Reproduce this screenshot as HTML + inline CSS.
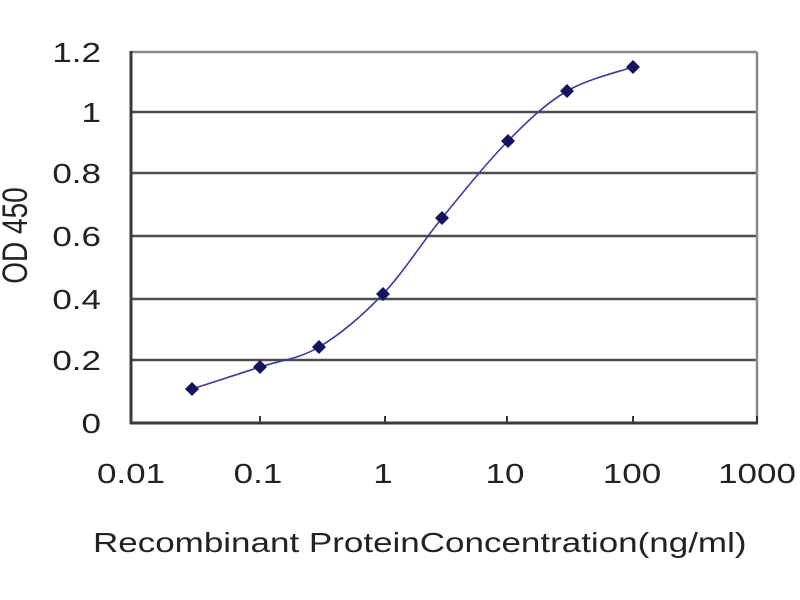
<!DOCTYPE html>
<html>
<head>
<meta charset="utf-8">
<style>
  html, body { margin: 0; padding: 0; background: #ffffff; }
  svg { display: block; }
  text { font-family: "Liberation Sans", Arial, sans-serif; fill: #222; }
</style>
</head>
<body>
<svg width="800" height="600" viewBox="0 0 800 600" xmlns="http://www.w3.org/2000/svg">
  <rect x="0" y="0" width="800" height="600" fill="#ffffff"/>

  <!-- gridlines -->
  <g stroke="#4d4d4d" stroke-width="2.5" fill="none">
    <line x1="131" y1="112" x2="757" y2="112"/>
    <line x1="131" y1="173" x2="757" y2="173"/>
    <line x1="131" y1="236" x2="757" y2="236"/>
    <line x1="131" y1="299" x2="757" y2="299"/>
    <line x1="131" y1="360" x2="757" y2="360"/>
  </g>
  <line x1="131" y1="52" x2="757" y2="52" stroke="#8a8a8a" stroke-width="2.5"/>
  <line x1="757" y1="52" x2="757" y2="423" stroke="#8a8a8a" stroke-width="2.5"/>

  <!-- axes -->
  <line x1="131" y1="51" x2="131" y2="424" stroke="#3a3a3a" stroke-width="3"/>
  <line x1="130" y1="423" x2="758" y2="423" stroke="#3a3a3a" stroke-width="3"/>
  <g stroke="#3a3a3a" stroke-width="2">
    <line x1="260" y1="423" x2="260" y2="416"/>
    <line x1="385" y1="423" x2="385" y2="416"/>
    <line x1="507" y1="423" x2="507" y2="416"/>
    <line x1="633" y1="423" x2="633" y2="416"/>
    <line x1="757" y1="423" x2="757" y2="416"/>
  </g>

  <!-- curve -->
  <path d="M192,389 C203.3,385.3 238.8,374 260,367 C281.2,360 298.5,359.2 319,347 C339.5,334.8 362.5,315.5 383,294 C403.5,272.5 421.2,243.5 442,218 C462.8,192.5 487.2,162.2 508,141 C528.8,119.8 546.2,103.3 567,91 C587.8,78.7 622,71 633,67"
        fill="none" stroke="#3b3b9c" stroke-width="1.6"/>

  <!-- markers -->
  <g fill="#14145f">
    <polygon points="192,382 199,389 192,396 185,389"/>
    <polygon points="260,360 267,367 260,374 253,367"/>
    <polygon points="319,340 326,347 319,354 312,347"/>
    <polygon points="383,287 390,294 383,301 376,294"/>
    <polygon points="442,211 449,218 442,225 435,218"/>
    <polygon points="508,134 515,141 508,148 501,141"/>
    <polygon points="567,84 574,91 567,98 560,91"/>
    <polygon points="633,60 640,67 633,74 626,67"/>
  </g>

  <!-- text, horizontally stretched 1.25x -->
  <g transform="scale(1.25,1)" font-size="28">
    <!-- y tick labels (right edge at 101 -> 80.8) -->
    <g text-anchor="end">
      <text x="80.8" y="62">1.2</text>
      <text x="80.8" y="122">1</text>
      <text x="80.8" y="183">0.8</text>
      <text x="80.8" y="246">0.6</text>
      <text x="80.8" y="309">0.4</text>
      <text x="80.8" y="370">0.2</text>
      <text x="80.8" y="433">0</text>
    </g>
    <!-- x tick labels -->
    <g text-anchor="middle">
      <text x="104.8" y="483">0.01</text>
      <text x="206.4" y="483">0.1</text>
      <text x="306.4" y="483">1</text>
      <text x="404" y="483">10</text>
      <text x="505.6" y="483">100</text>
      <text x="605.6" y="483">1000</text>
    </g>
    <!-- x title -->
    <text x="74.4" y="552">Recombinant ProteinConcentration(ng/ml)</text>
    <!-- y title -->
    <text x="21.6" y="235.5" text-anchor="middle" transform="rotate(-90 21.6 235.5)">OD 450</text>
  </g>
</svg>
</body>
</html>
